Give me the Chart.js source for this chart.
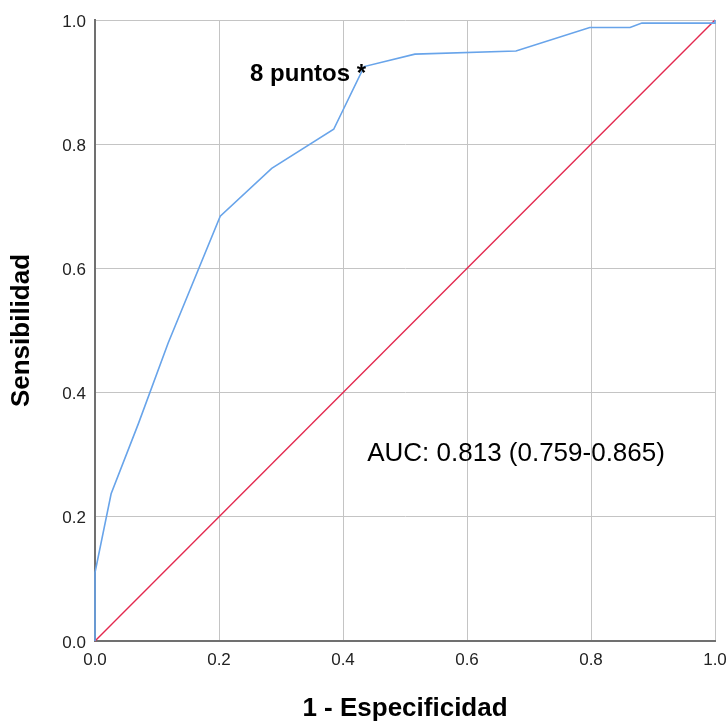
<!DOCTYPE html>
<html>
<head>
<meta charset="utf-8">
<script src="https://cdn.jsdelivr.net/npm/chart.js@4.4.1/dist/chart.umd.min.js"></script>
<style>
  html, body { margin: 0; padding: 0; background: #fff; }
  #wrap { width: 728px; height: 724px; }
</style>
</head>
<body>
<div id="wrap"><canvas id="c" width="728" height="724"></canvas></div>
<script>
// ROC curve: 1 - specificity (FPR) and sensitivity (TPR)
const fpr = [0, 0, 0.026, 0.07, 0.118, 0.202, 0.285, 0.385, 0.434, 0.516, 0.679, 0.798, 0.863, 0.882, 1.0, 1.0];
const tpr = [0, 0.110, 0.237, 0.35, 0.48, 0.684, 0.761, 0.824, 0.925, 0.945, 0.950, 0.988, 0.988, 0.995, 0.995, 1.0];
// Reference (chance) line
const refX = [0, 1];
const refY = [0, 1];
// Tick labels
const tickValues = [0, 0.2, 0.4, 0.6, 0.8, 1.0];
const tickLabels = ['0.0', '0.2', '0.4', '0.6', '0.8', '1.0'];
// Texts
const xTitle = '1 - Especificidad';
const yTitle = 'Sensibilidad';
const cutLabel = '8 puntos *';
const cutPoint = { x: 0.434, y: 0.925 };
const aucLabel = 'AUC: 0.813 (0.759-0.865)';
const aucAnchor = { x: 0.439, y: 0.29 };

const FONT = "Arial, 'Liberation Sans', Helvetica, sans-serif";

const curve = fpr.map((x, i) => ({ x: x, y: tpr[i] }));
const ref = refX.map((x, i) => ({ x: x, y: refY[i] }));

const tickCb = function (v) {
  const i = tickValues.findIndex(t => Math.abs(t - v) < 1e-6);
  return i >= 0 ? tickLabels[i] : '';
};

const annotations = {
  id: 'annotations',
  afterDatasetsDraw(chart) {
    const { ctx, scales } = chart;
    ctx.save();
    ctx.fillStyle = '#000';
    ctx.font = 'bold 24px ' + FONT;
    ctx.textAlign = 'right';
    ctx.textBaseline = 'alphabetic';
    ctx.fillText(cutLabel, scales.x.getPixelForValue(cutPoint.x) + 2, scales.y.getPixelForValue(cutPoint.y) + 14.5);
    ctx.font = '26px ' + FONT;
    ctx.textAlign = 'left';
    ctx.fillText(aucLabel, scales.x.getPixelForValue(aucAnchor.x), scales.y.getPixelForValue(aucAnchor.y));
    ctx.restore();
  }
};

new Chart(document.getElementById('c'), {
  type: 'scatter',
  data: {
    datasets: [
      {
        data: curve,
        showLine: true,
        borderColor: '#68a4ea',
        borderWidth: 1.6,
        pointRadius: 0,
        clip: false,
        order: 1
      },
      {
        data: ref,
        showLine: true,
        borderColor: '#e3294f',
        borderWidth: 1.4,
        pointRadius: 0,
        clip: false,
        order: 2
      }
    ]
  },
  options: {
    responsive: false,
    animation: false,
    layout: { padding: { top: 20, right: 13, left: 0, bottom: 0 } },
    plugins: { legend: { display: false }, tooltip: { enabled: false } },
    scales: {
      x: {
        type: 'linear',
        min: 0, max: 1,
        afterBuildTicks(s) { s.ticks = tickValues.map(v => ({ value: v })); },
        ticks: { callback: tickCb, padding: 9, color: '#222', font: { family: FONT, size: 17 }, maxRotation: 0 },
        grid: { color: '#c4c4c4', lineWidth: 1, drawTicks: false },
        border: { color: '#707070', width: 2 },
        title: { display: true, text: xTitle, color: '#000', font: { family: FONT, size: 26, weight: 'bold', lineHeight: 1.2 }, padding: { top: 0, bottom: 0 } },
        afterFit(s) { s.height = 83; s.paddingLeft = 0; s.paddingRight = 0; }
      },
      y: {
        type: 'linear',
        min: 0, max: 1,
        afterBuildTicks(s) { s.ticks = tickValues.map(v => ({ value: v })); },
        ticks: { callback: tickCb, padding: 9, labelOffset: 2, color: '#222', font: { family: FONT, size: 17 } },
        grid: { color: '#c4c4c4', lineWidth: 1, drawTicks: false },
        border: { color: '#707070', width: 2 },
        title: { display: true, text: yTitle, color: '#000', font: { family: FONT, size: 26, weight: 'bold', lineHeight: 1.2 }, padding: { top: 6, bottom: 0 } },
        afterFit(s) { s.width = 95; s.paddingTop = 0; s.paddingBottom = 0; }
      }
    }
  },
  plugins: [annotations]
});
</script>
</body>
</html>
